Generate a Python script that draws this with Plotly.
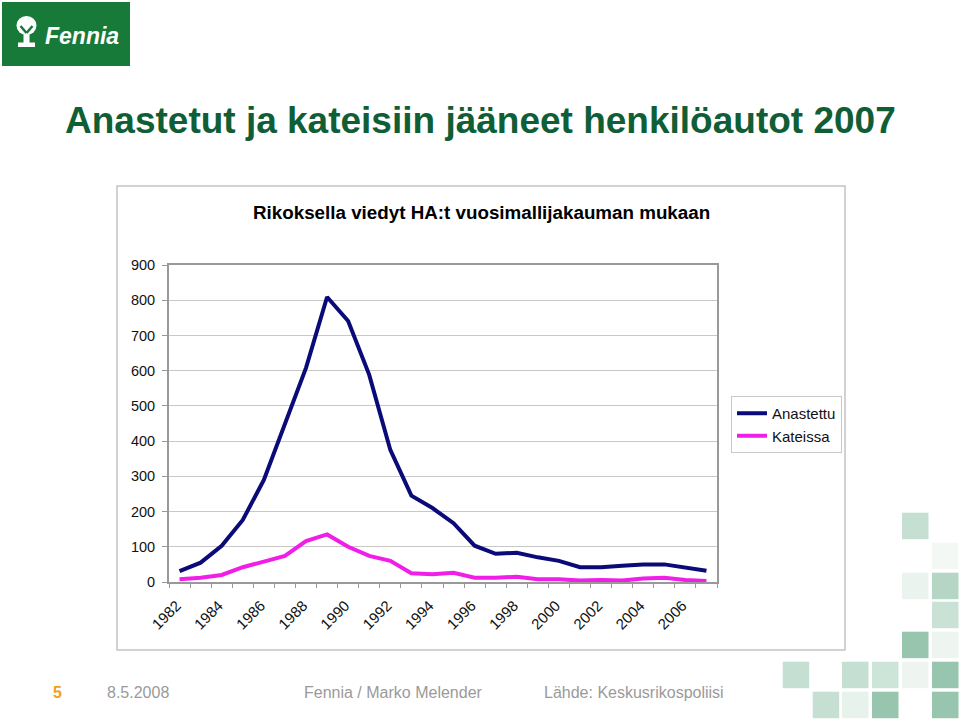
import plotly.graph_objects as go

years = [str(y) for y in range(1982, 2008)]
anastettu = [31, 55, 103, 176, 290, 446, 608, 809, 741, 588, 375, 245, 210,
             167, 103, 80, 83, 70, 60, 42, 42, 46, 50, 50, 42, 32]
kateissa = [8, 12, 20, 42, 58, 74, 116, 135, 100, 74, 60, 25, 22,
            26, 12, 12, 15, 8, 8, 4, 6, 4, 10, 12, 6, 3]
tick_labels = [str(y) for y in range(1982, 2008, 2)]
y_ticks = list(range(0, 1000, 100))

W, H = 960, 720
L, R, T, B = 169, 717, 265, 582


def px(x):
    return (x - L) / (R - L)


def py(y):
    return (B - y) / (B - T)


fig = go.Figure()
fig.add_trace(go.Scatter(x=list(range(len(years))), y=anastettu, mode="lines",
                         name="Anastettu", line=dict(color="#0a0a78", width=4)))
fig.add_trace(go.Scatter(x=list(range(len(years))), y=kateissa, mode="lines",
                         name="Kateissa", line=dict(color="#f01ee6", width=4)))

shapes = []
# chart box frame
shapes.append(dict(type="rect", xref="paper", yref="paper", x0=px(117), x1=px(845),
                   y0=py(650), y1=py(186), line=dict(color="#c4c4c4", width=1.5),
                   fillcolor="rgba(0,0,0,0)", layer="below"))
# logo
shapes.append(dict(type="rect", xref="paper", yref="paper", x0=px(2), x1=px(130),
                   y0=py(66), y1=py(2), line=dict(width=0), fillcolor="#187a38"))
shapes.append(dict(type="circle", xref="paper", yref="paper", x0=px(16.5), x1=px(36.5),
                   y0=py(35), y1=py(16), line=dict(width=0), fillcolor="white"))
shapes.append(dict(type="rect", xref="paper", yref="paper", x0=px(23.5), x1=px(29.5),
                   y0=py(43), y1=py(30), line=dict(width=0), fillcolor="white"))
shapes.append(dict(type="rect", xref="paper", yref="paper", x0=px(18), x1=px(35),
                   y0=py(47), y1=py(42.5), line=dict(width=0), fillcolor="white"))
shapes.append(dict(type="line", xref="paper", yref="paper", x0=px(20.5), x1=px(26.5),
                   y0=py(26), y1=py(33), line=dict(width=2.5, color="#187a38")))
shapes.append(dict(type="line", xref="paper", yref="paper", x0=px(32.5), x1=px(26.5),
                   y0=py(26), y1=py(33), line=dict(width=2.5, color="#187a38")))

# decorative squares
cols = [782.7, 812.7, 842, 872, 902, 932]
rows = [512.7, 542.7, 572.7, 601.7, 631.7, 661.7, 691.7]
squares = [(4, 0, "#c5e0d3"), (5, 1, "#f3f8f5"), (4, 2, "#eaf3ee"), (5, 2, "#b5d6c5"),
           (5, 3, "#c9e2d5"), (4, 4, "#97c5ad"), (5, 4, "#eef5f1"), (0, 5, "#c5e0d3"),
           (2, 5, "#c5e0d3"), (3, 5, "#cde5d8"), (4, 5, "#eef5f0"), (5, 5, "#97c5ad"),
           (1, 6, "#c5e0d3"), (2, 6, "#e8f2ec"), (3, 6, "#97c5ad"), (5, 6, "#97c5ad")]
for c, r, col in squares:
    x0, y0 = cols[c], rows[r]
    shapes.append(dict(type="rect", xref="paper", yref="paper", x0=px(x0), x1=px(x0 + 26.5),
                       y0=py(y0 + 26.5), y1=py(y0), line=dict(width=0), fillcolor=col,
                       layer="below"))

annotations = [
    dict(text="<b>Anastetut ja kateisiin jääneet henkilöautot 2007</b>", xref="paper", yref="paper",
         x=px(480), y=py(121), xanchor="center", yanchor="middle", showarrow=False,
         font=dict(family="Arial, Liberation Sans", size=37, color="#0f5e36")),
    dict(text="<b>Rikoksella viedyt HA:t vuosimallijakauman mukaan</b>", xref="paper", yref="paper",
         x=px(481), y=py(213), xanchor="center", yanchor="middle", showarrow=False,
         font=dict(family="Arial, Liberation Sans", size=18.8, color="#000000")),
    dict(text="<b><i>Fennia</i></b>", xref="paper", yref="paper",
         x=px(43), y=py(36), xanchor="left", yanchor="middle", showarrow=False,
         font=dict(family="Arial, Liberation Sans", size=23, color="white")),
    dict(text="<b>5</b>", xref="paper", yref="paper", x=px(57), y=py(692),
         xanchor="center", yanchor="middle", showarrow=False,
         font=dict(family="Arial, Liberation Sans", size=16, color="#f0a01e")),
    dict(text="8.5.2008", xref="paper", yref="paper", x=px(105), y=py(692),
         xanchor="left", yanchor="middle", showarrow=False,
         font=dict(family="Arial, Liberation Sans", size=16, color="#9a9a9a")),
    dict(text="Fennia / Marko Melender", xref="paper", yref="paper", x=px(302), y=py(692),
         xanchor="left", yanchor="middle", showarrow=False,
         font=dict(family="Arial, Liberation Sans", size=16, color="#9a9a9a")),
    dict(text="Lähde: Keskusrikospoliisi", xref="paper", yref="paper", x=px(542), y=py(692),
         xanchor="left", yanchor="middle", showarrow=False,
         font=dict(family="Arial, Liberation Sans", size=16, color="#9a9a9a")),
]

fig.update_layout(
    width=W, height=H,
    margin=dict(l=L, r=W - R, t=T, b=H - B, pad=0),
    paper_bgcolor="white", plot_bgcolor="white",
    font=dict(family="Arial, Liberation Sans", size=14.5, color="#111111"),
    shapes=shapes, annotations=annotations,
    legend=dict(x=px(731), y=py(396), xanchor="left", yanchor="top",
                bgcolor="white", bordercolor="#c8c8c8", borderwidth=1,
                font=dict(size=15, color="#111111")),
    xaxis=dict(range=[-0.5, len(years) - 0.5],
               tickmode="array", tickvals=list(range(0, len(years), 2)), ticktext=tick_labels,
               tickangle=-45, ticks="", showgrid=False,
               showline=True, linecolor="#999999", linewidth=2, mirror=True,
               minor=dict(ticks="outside", tick0=-0.5, dtick=1, ticklen=4,
                          tickcolor="#999999", showgrid=False),
               tickfont=dict(size=15), zeroline=False, ticklabelstandoff=7,
               ticklabelshift=-3),
    yaxis=dict(range=[0, 900], tickvals=y_ticks, ticks="outside", ticklen=5,
               tickcolor="#999999", showgrid=True, gridcolor="#c8c8c8", gridwidth=1,
               showline=True, linecolor="#999999", linewidth=2, mirror=True,
               zeroline=False, ticklabelstandoff=4, tickfont=dict(size=14.5)),
)

fig.write_html("out.html")
